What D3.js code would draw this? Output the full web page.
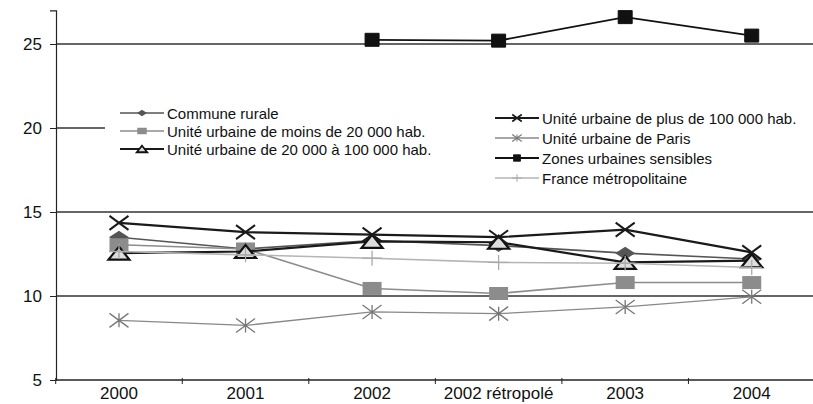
<!DOCTYPE html>
<html>
<head>
<meta charset="utf-8">
<script src="https://cdn.jsdelivr.net/npm/d3@7"></script>
<style>
body { margin: 0; background: #fff; }
text { font-family: "Liberation Sans", Arial, sans-serif; fill: #111; }
</style>
</head>
<body>
<div id="chart"></div>
<script>
var categories = ["2000", "2001", "2002", "2002 rétropolé", "2003", "2004"];
var yTicks = [5, 10, 15, 20, 25];

var communeRurale = [13.5, 12.8, 13.3, 13.0, 12.55, 12.2];
var moins20000 = [13.05, 12.8, 10.45, 10.15, 10.8, 10.8];
var de20000a100000 = [12.55, 12.65, 13.25, 13.2, 12.0, 12.1];
var plus100000 = [14.35, 13.8, 13.65, 13.5, 13.95, 12.6];
var paris = [8.55, 8.25, 9.05, 8.95, 9.35, 9.95];
var zus = [null, null, 25.25, 25.2, 26.6, 25.5];
var france = [12.65, 12.45, 12.25, 12.0, 11.95, 11.7];

var seriesNames = [
	"Commune rurale",
	"Unité urbaine de moins de 20 000 hab.",
	"Unité urbaine de 20 000 à 100 000 hab.",
	"Unité urbaine de plus de 100 000 hab.",
	"Unité urbaine de Paris",
	"Zones urbaines sensibles",
	"France métropolitaine"
];

var width = 813, height = 404;

// marker shapes, w/h in px, drawn around 0,0
function markerPath(type, w, h) {
	var a = w / 2, b = h / 2;
	if (type == "diamond") return "M0," + (-b) + "L" + a + ",0L0," + b + "L" + (-a) + ",0Z";
	if (type == "square") return "M" + (-a) + "," + (-b) + "H" + a + "V" + b + "H" + (-a) + "Z";
	if (type == "triangle") return "M0," + (-b) + "L" + a + "," + b + "L" + (-a) + "," + b + "Z";
	if (type == "x") return "M" + (-a) + "," + (-b) + "L" + a + "," + b + "M" + a + "," + (-b) + "L" + (-a) + "," + b;
	if (type == "star") return "M" + (-a) + "," + (-b) + "L" + a + "," + b + "M" + a + "," + (-b) + "L" + (-a) + "," + b + "M0," + (-b) + "V" + b;
	if (type == "plus") return "M0," + (-b) + "V" + b + "M" + (-a) + ",0H" + a;
	return "";
}

var series = [
	{ name: seriesNames[0], values: communeRurale, line: "#555", lw: 1.6, marker: "diamond", mw: 20, mh: 13, fill: "#555", stroke: "none", sw: 0 },
	{ name: seriesNames[1], values: moins20000, line: "#8c8c8c", lw: 1.6, marker: "square", mw: 19, mh: 13, fill: "#8c8c8c", stroke: "none", sw: 0 },
	{ name: seriesNames[2], values: de20000a100000, line: "#1a1a1a", lw: 2.2, marker: "triangle", mw: 21, mh: 13, fill: "#ddd", stroke: "#111", sw: 2.2 },
	{ name: seriesNames[3], values: plus100000, line: "#1a1a1a", lw: 2.2, marker: "x", mw: 19, mh: 14, fill: "none", stroke: "#1a1a1a", sw: 2 },
	{ name: seriesNames[4], values: paris, line: "#888", lw: 1.3, marker: "star", mw: 19, mh: 14, fill: "none", stroke: "#777", sw: 1.3 },
	{ name: seriesNames[5], values: zus, line: "#111", lw: 1.8, marker: "square", mw: 14, mh: 13, fill: "#111", stroke: "#111", sw: 1 },
	{ name: seriesNames[6], values: france, line: "#b5b5b5", lw: 1.6, marker: "plus", mw: 20, mh: 15, fill: "none", stroke: "#aaa", sw: 1.3 }
];

var svg = d3.select("#chart").append("svg")
	.attr("width", width)
	.attr("height", height);

var x = d3.scaleBand().domain(categories).range([55.7, 815]);
var y = d3.scaleLinear().domain([5, 27]).range([380, 10.4]);

// gridlines
svg.append("g").selectAll("line")
	.data(yTicks.filter(function(d) { return d > 5; }))
	.enter().append("line")
	.attr("x1", 56).attr("x2", width)
	.attr("y1", function(d) { return y(d); })
	.attr("y2", function(d) { return y(d); })
	.attr("stroke", "#333").attr("stroke-width", 1.4);

// y axis
var yAxis = svg.append("g").attr("transform", "translate(56,0)")
	.call(d3.axisLeft(y).tickValues(yTicks).tickSize(6).tickPadding(8));
yAxis.select(".domain").attr("stroke", "#222").attr("stroke-width", 1.2);
yAxis.selectAll(".tick line").attr("stroke", "#222");
yAxis.selectAll("text").style("font-size", "17px").attr("fill", "#111");

// x axis
svg.append("line")
	.attr("x1", 56).attr("x2", width)
	.attr("y1", y(5)).attr("y2", y(5))
	.attr("stroke", "#222").attr("stroke-width", 1.4);
svg.append("g").selectAll("line")
	.data(categories)
	.enter().append("line")
	.attr("x1", function(d) { return x(d); })
	.attr("x2", function(d) { return x(d); })
	.attr("y1", y(5) - 2).attr("y2", y(5) + 4)
	.attr("stroke", "#222");
svg.append("g").selectAll("text")
	.data(categories)
	.enter().append("text")
	.attr("x", function(d) { return x(d) + x.bandwidth() / 2; })
	.attr("y", y(5) + 19)
	.attr("text-anchor", "middle")
	.style("font-size", "17px")
	.text(function(d) { return d; });

// legend box (white, hides the 20 gridline)
var legend = svg.append("g");
legend.append("rect")
	.attr("x", 105).attr("y", 98).attr("width", width - 105).attr("height", 92)
	.attr("fill", "#fff");

// series
var line = d3.line()
	.defined(function(d) { return d != null; })
	.x(function(d, i) { return x(categories[i]) + x.bandwidth() / 2; })
	.y(function(d) { return y(d); });

series.forEach(function(s) {
	var g = svg.append("g");
	g.append("path")
		.attr("d", line(s.values))
		.attr("fill", "none")
		.attr("stroke", s.line)
		.attr("stroke-width", s.lw);
	g.selectAll("path.mk")
		.data(s.values.map(function(v, i) { return { v: v, c: categories[i] }; }).filter(function(d) { return d.v != null; }))
		.enter().append("path")
		.attr("class", "mk")
		.attr("transform", function(d) { return "translate(" + (x(d.c) + x.bandwidth() / 2) + "," + y(d.v) + ")"; })
		.attr("d", markerPath(s.marker, s.mw, s.mh))
		.attr("fill", s.fill)
		.attr("stroke", s.stroke)
		.attr("stroke-width", s.sw)
		.attr("stroke-linejoin", s.marker == "square" && s.fill == "#111" ? "round" : "miter");
});

// legend entries
var legendPos = [
	{ x: 120, y: 113 }, { x: 120, y: 131 }, { x: 120, y: 149 },
	{ x: 495, y: 118 }, { x: 495, y: 138 }, { x: 495, y: 158 }, { x: 495, y: 178 }
];
series.forEach(function(s, i) {
	var p = legendPos[i];
	var g = legend.append("g").attr("transform", "translate(" + p.x + "," + p.y + ")");
	g.append("line")
		.attr("x1", 0).attr("x2", 44)
		.attr("y1", 0).attr("y2", 0)
		.attr("stroke", s.line).attr("stroke-width", s.lw);
	g.append("path")
		.attr("transform", "translate(22,0)")
		.attr("d", markerPath(s.marker, s.mw * 0.5, s.mh * 0.5))
		.attr("fill", s.fill)
		.attr("stroke", s.stroke)
		.attr("stroke-width", s.sw * 0.8);
	g.append("text")
		.attr("x", 47).attr("y", 5.5)
		.style("font-size", "15px")
		.text(s.name);
});
</script>
</body>
</html>
